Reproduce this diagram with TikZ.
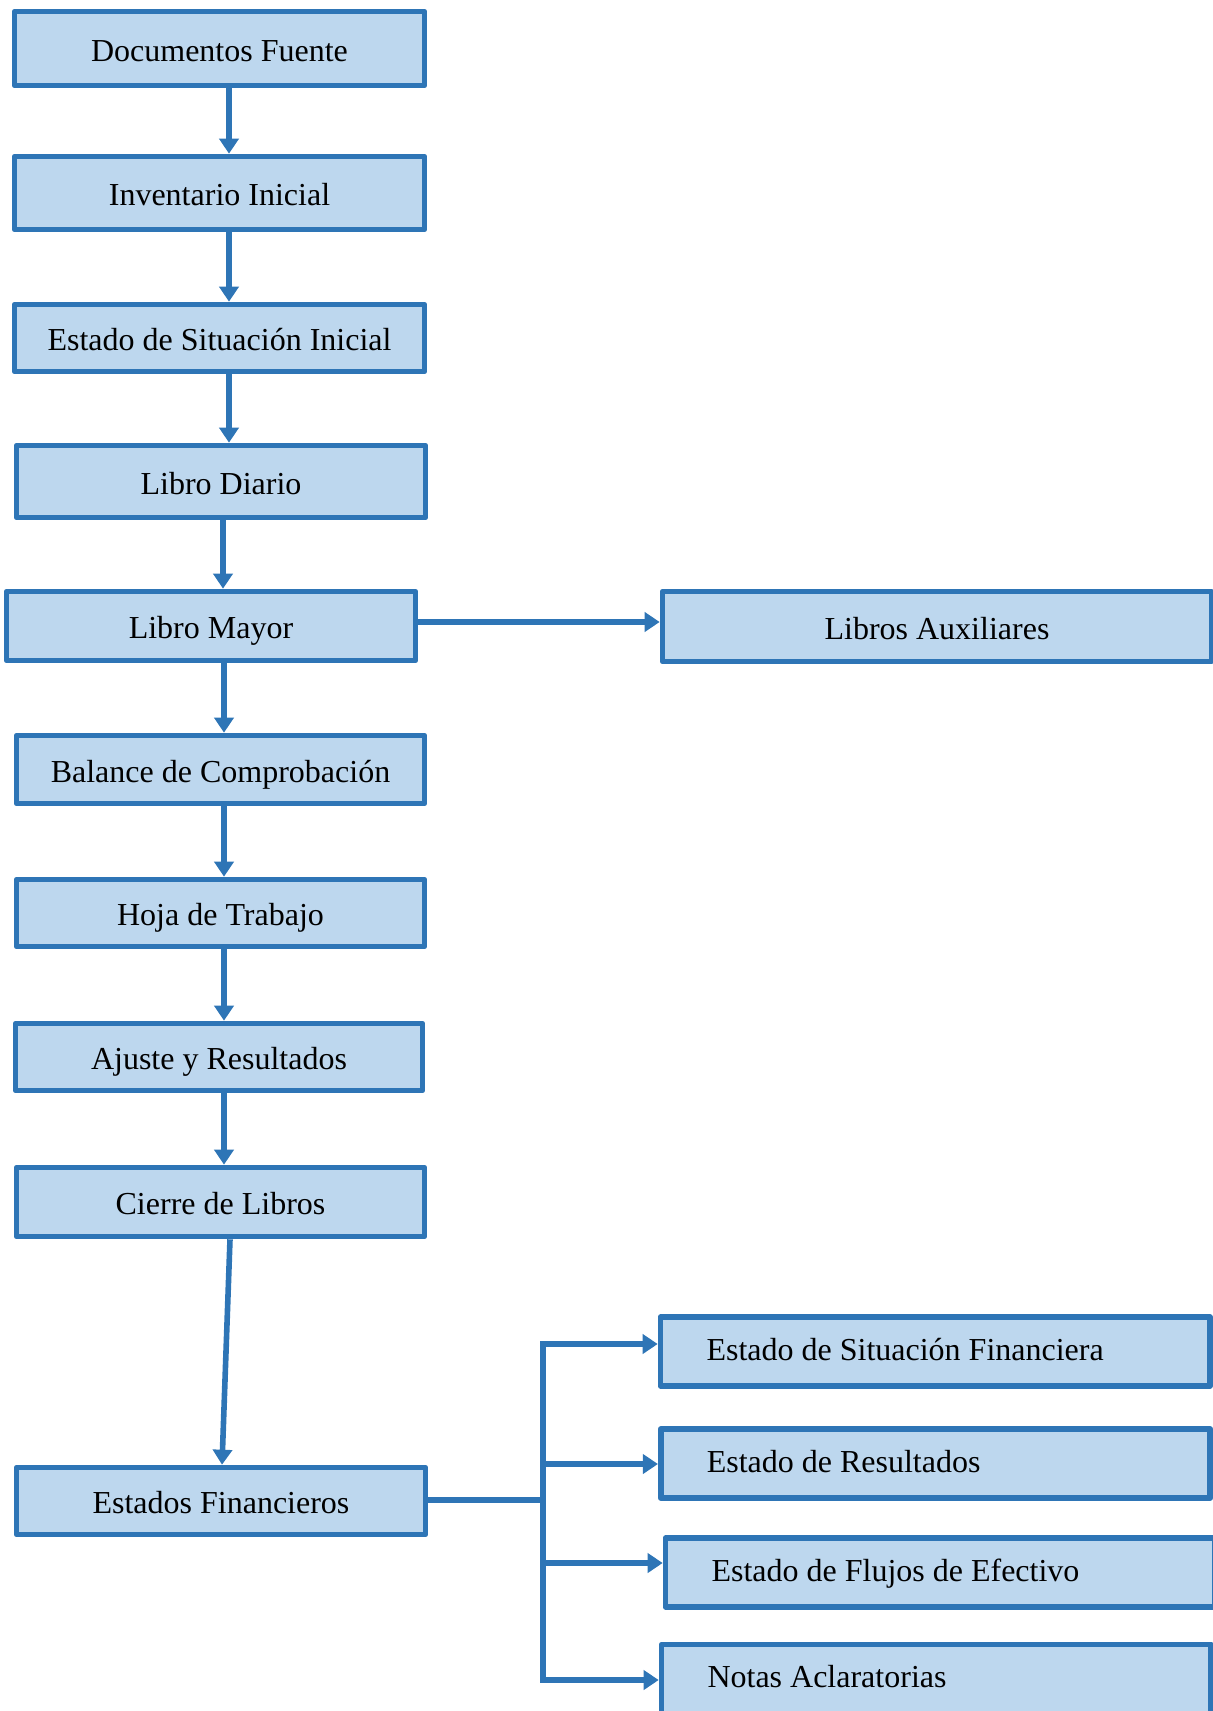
\documentclass[tikz,border=0pt]{standalone}
\usepackage{fontspec}
\setmainfont{Liberation Serif}
\usetikzlibrary{arrows.meta}
\definecolor{bord}{HTML}{2E75B6}
\definecolor{boxfill}{HTML}{BDD7EE}
\begin{document}
\begin{tikzpicture}[x=0.5pt,y=-0.5pt,
  box/.style={draw=bord, fill=boxfill, line width=2.8pt, line join=round, inner sep=0pt,
              font=\fontsize{16}{19}\selectfont, text=black, text height=14.2pt, text depth=1.5pt},
  lbox/.style={box, minimum width=205pt},
  rbox/.style={box, align=flush left, text width=228.75pt, inner xsep=23pt, minimum height=34.5pt,
               text height=9.3pt, text depth=0.5pt},
  rboxc/.style={box, minimum width=274.5pt, minimum height=35pt},
  conn/.style={draw=bord, line width=2.8pt},
  arr/.style={conn, -{Triangle[length=7.5pt,width=9.5pt]}}]
\useasboundingbox (0,0) rectangle (1212,1711);

% left column
\node[lbox, minimum height=37pt] (doc) at (219.5,48.5) {Documentos Fuente};
\node[lbox, minimum height=36.5pt] (inv) at (219.5,193) {Inventario Inicial};
\node[lbox, minimum height=33.5pt] (esi) at (219.5,338) {Estado de Situación Inicial};
\node[lbox, minimum width=204.5pt, minimum height=36pt] (dia) at (221,481.5) {Libro Diario};
\node[lbox, minimum width=204.5pt, minimum height=34.5pt] (may) at (211,626) {Libro Mayor};
\node[lbox, minimum width=204pt, minimum height=34pt] (bal) at (220.5,769.5) {Balance de Comprobación};
\node[lbox, minimum width=204pt, minimum height=33.5pt] (hoj) at (220.5,913) {Hoja de Trabajo};
\node[lbox, minimum width=203.5pt, minimum height=33.5pt] (aju) at (219,1057) {Ajuste y Resultados};
\node[lbox, minimum width=204pt, minimum height=34.5pt] (cie) at (220.5,1202) {Cierre de Libros};
\node[lbox, minimum width=204.5pt, minimum height=33.5pt] (ef) at (221,1501) {Estados Financieros};

% right column
\node[rboxc] (la) at (937,626.5) {Libros Auxiliares};
\node[rbox] (esf) at (935.25,1351.5) {Estado de Situación Financiera};
\node[rbox] (er) at (935.5,1463.5) {Estado de Resultados};
\node[rbox] (efe) at (940.25,1572.5) {Estado de Flujos de Efectivo};
\node[rbox] (not) at (936.25,1679) {Notas Aclaratorias};

% helper coordinates
\coordinate (x229) at (229,0);
\coordinate (x223) at (223,0);
\coordinate (x224) at (224,0);
\coordinate (x230) at (230,0);
\coordinate (x222) at (222,0);
\coordinate (y622) at (0,622);
\coordinate (y1500) at (0,1500);
\coordinate (y1464) at (0,1464);
\coordinate (y1563) at (0,1563);
\coordinate (brT) at (543,1344);
\coordinate (brB) at (543,1680);

% vertical chain
\draw[arr] (doc.south -| x229) -- (inv.north -| x229);
\draw[arr] (inv.south -| x229) -- (esi.north -| x229);
\draw[arr] (esi.south -| x229) -- (dia.north -| x229);
\draw[arr] (dia.south -| x223) -- (may.north -| x223);
\draw[arr] (may.south -| x224) -- (bal.north -| x224);
\draw[arr] (bal.south -| x224) -- (hoj.north -| x224);
\draw[arr] (hoj.south -| x224) -- (aju.north -| x224);
\draw[arr] (aju.south -| x224) -- (cie.north -| x224);
\draw[arr] (cie.south -| x230) -- (ef.north -| x222);

% Libro Mayor -> Libros Auxiliares
\draw[arr] (may.east |- y622) -- (la.west |- y622);

% Estados Financieros bracket
\draw[conn] (ef.east |- y1500) -- (brT |- y1500);
\draw[arr] (brB) |- (esf.west |- brT);
\draw[arr] (brT) |- (not.west |- brB);
\draw[arr] (brT |- y1464) -- (er.west |- y1464);
\draw[arr] (brT |- y1563) -- (efe.west |- y1563);
\end{tikzpicture}
\end{document}
